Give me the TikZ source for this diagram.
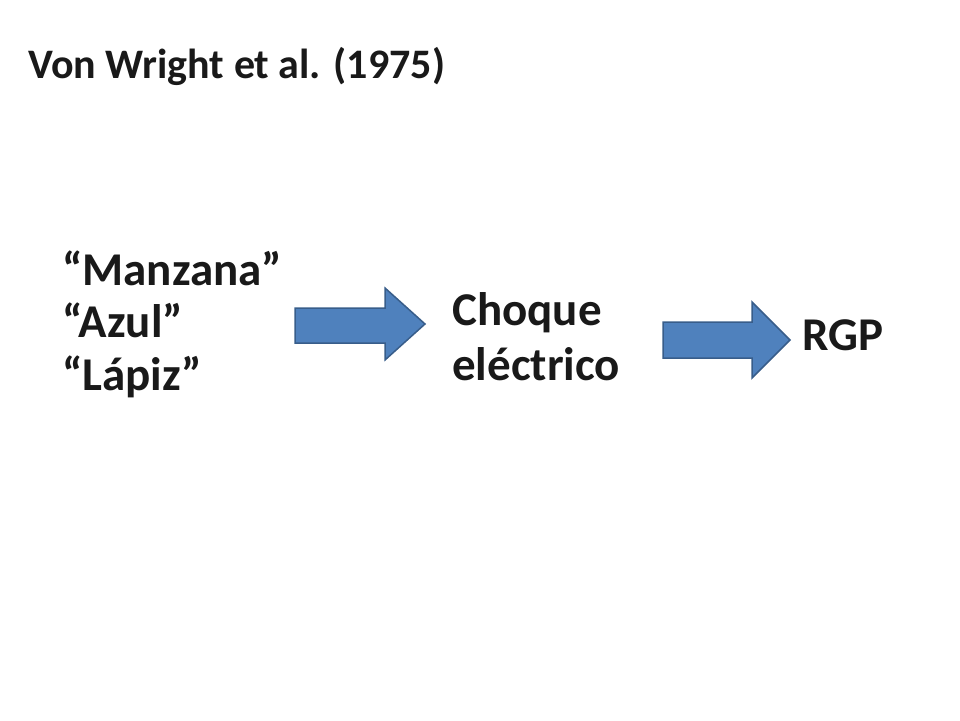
\documentclass[tikz,border=0pt]{standalone}
\usepackage{fontspec}
\setmainfont{Carlito}
\begin{document}
\begin{tikzpicture}[x=1pt,y=-1pt,
  txt/.style={anchor=base west,inner sep=0pt,font=\bfseries\fontsize{47}{56}\selectfont,text=black!90},
  blk/.style={fill={rgb,255:red,79;green,129;blue,189},draw={rgb,255:red,56;green,93;blue,138},line width=1.5pt,line join=miter}]
\useasboundingbox (0,0) rectangle (960,720);
\node[txt,font=\bfseries\fontsize{42}{50}\selectfont] (title) at (28,78) {Von Wright et al. (1975)};
\node[txt] (l1) at (62,285) {“Manzana”};
\node[txt] (l2) at (62,337) {“Azul”};
\node[txt] (l3) at (62,390) {“Lápiz”};
\node[txt] (c1) at (452,325) {Choque};
\node[txt] (c2) at (452,380) {eléctrico};
\node[txt] (rgp) at (802,350) {RGP};
\draw[blk] (295,308) -- (385,308) -- (385,288) -- (425,324) -- (385,360) -- (385,343) -- (295,343) -- cycle;
\draw[blk] (663,322) -- (752,322) -- (752,302) -- (790,340) -- (752,378) -- (752,358) -- (663,358) -- cycle;
\end{tikzpicture}
\end{document}
